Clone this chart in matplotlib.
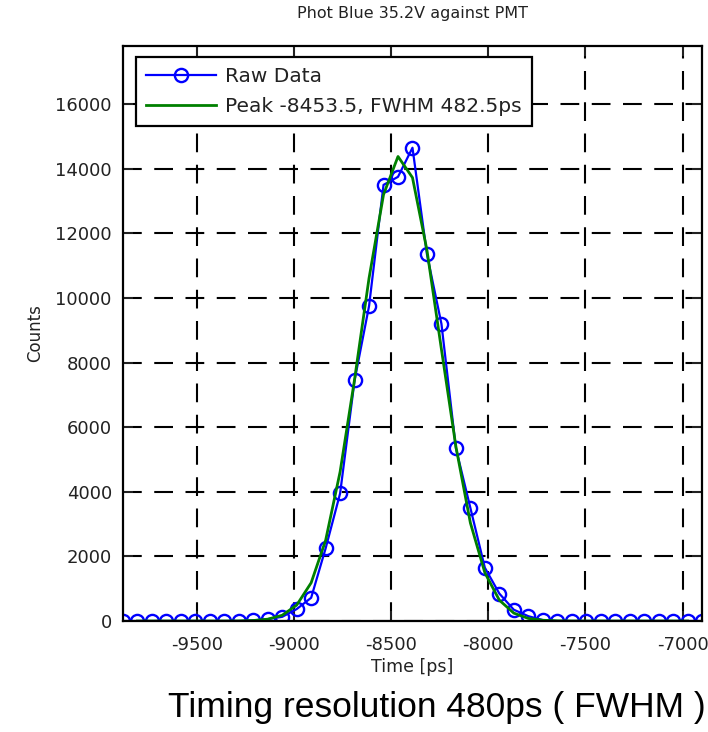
import matplotlib
matplotlib.use("Agg")
import matplotlib.pyplot as plt
import numpy as np

# bin centres (ps) and raw counts
time_ps = [-9880, -9805.5, -9731, -9656.5, -9582, -9507.5, -9433, -9358.5, -9284,
           -9209.5, -9135, -9060.5, -8986, -8911.5, -8837, -8762.5, -8688, -8613.5,
           -8539, -8464.5, -8390, -8315.5, -8241, -8166.5, -8092, -8017.5, -7943,
           -7868.5, -7794, -7719.5, -7645, -7570.5, -7496, -7421.5, -7347, -7272.5,
           -7198, -7123.5, -7049, -6974.5, -6900]
raw_counts = [0, 0, 0, 0, 0, 0, 0, 0, 0,
              20, 60, 130, 370, 720, 2250, 3950, 7450, 9750,
              13500, 13750, 14650, 11350, 9200, 5350, 3500, 1650, 850,
              350, 150, 30, 0, 0, 0, 0, 0, 0,
              0, 0, 0, 0, 0]

# fitted curve as drawn (green), same bins without the two end points
fit_time = time_ps[1:-1]
fit_counts = [0, 0, 0, 0, 0, 0, 0, 4,
              16, 57, 179, 492, 1184, 2498, 4618, 7481, 10616,
              13199, 14379, 13725, 11478, 8410, 5400, 3038, 1496, 646,
              245, 81, 24, 6, 0, 0, 0, 0, 0,
              0, 0, 0, 0]

plt.rcParams['font.family'] = ['DejaVu Sans']
plt.rcParams['axes.unicode_minus'] = False

fig = plt.figure(figsize=(7.08, 7.32), dpi=100)
ax = fig.add_axes([0.1737, 0.1516, 0.8178, 0.7856])

ax.plot(time_ps, raw_counts, color='#0000ff', lw=1.6, marker='o', ms=9.5,
        mfc='none', mec='#0000ff', mew=1.7, label='Raw Data')
ax.plot(fit_time, fit_counts, color='#008000', lw=2,
        label='Peak -8453.5, FWHM 482.5ps')

ax.set_xlim(time_ps[0], time_ps[-1])
ax.set_ylim(0, 17800)
ax.set_xticks([-9500, -9000, -8500, -8000, -7500, -7000])
ax.set_yticks(np.arange(0, 16001, 2000))

ax.grid(True, color='black', linestyle=(0, (9, 6)), lw=1.5)
ax.tick_params(direction='in', length=7, width=1.4, top=True, right=True,
               labelsize=13, colors='#222222', pad=8)
ax.tick_params(axis='x', pad=11)
for s in ax.spines.values():
    s.set_linewidth(1.6)

ax.set_title('Phot Blue 35.2V against PMT', fontsize=11.5, pad=20, color='#222222')
ax.set_xlabel('Time [ps]', fontsize=12.5, labelpad=3, color='#222222')
ax.set_ylabel('Counts', fontsize=12, labelpad=8, color='#222222')

leg = ax.legend(loc='upper left', bbox_to_anchor=(0.022, 0.981), fontsize=14.5,
                fancybox=False, framealpha=1, edgecolor='black',
                handlelength=3.5, handletextpad=0.45, borderpad=0.5,
                labelspacing=0.55, borderaxespad=0)
leg.get_frame().set_linewidth(1.6)
for t in leg.get_texts():
    t.set_color('#222222')

fig.text(0.617, 0.033, 'Timing resolution 480ps ( FWHM )', ha='center',
         va='center', fontsize=25.5, family='Liberation Sans')

fig.savefig('out.png', dpi=100)
